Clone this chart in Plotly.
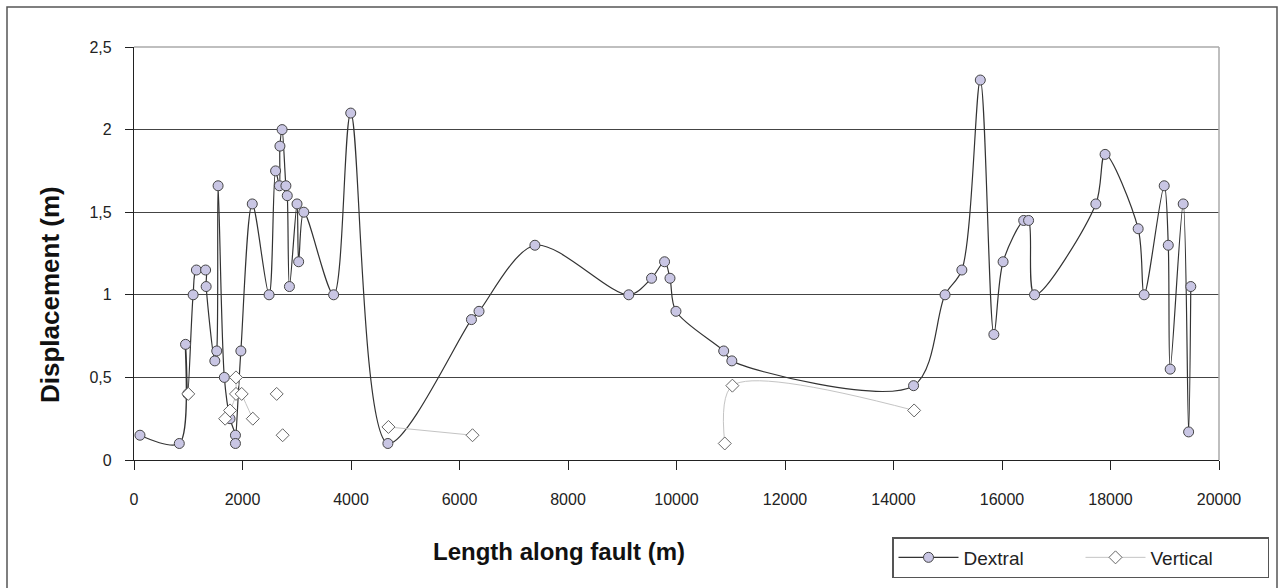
import plotly.graph_objects as go

# Dextral displacement (m) vs length along fault (m)
dextral_x = [110, 835, 950, 990, 1090, 1150, 1320, 1330, 1490, 1525, 1550, 1665, 1770, 1870, 1870,
             1970, 2180, 2490, 2610, 2680, 2690, 2730, 2800, 2825, 2865, 3005, 3035, 3130, 3680, 3995,
             4680, 6220, 6360, 7390, 9120, 9540, 9780, 9880, 9990, 10870, 11020, 14370, 14950, 15260,
             15600, 15850, 16020, 16400, 16490, 16600, 17730, 17900, 18510, 18620, 18990, 19065, 19100,
             19340, 19440, 19480]
dextral_y = [0.15, 0.10, 0.70, 0.40, 1.00, 1.15, 1.15, 1.05, 0.60, 0.66, 1.66, 0.50, 0.25, 0.15, 0.10,
             0.66, 1.55, 1.00, 1.75, 1.66, 1.90, 2.00, 1.66, 1.60, 1.05, 1.55, 1.20, 1.50, 1.00, 2.10,
             0.10, 0.85, 0.90, 1.30, 1.00, 1.10, 1.20, 1.10, 0.90, 0.66, 0.60, 0.45, 1.00, 1.15,
             2.30, 0.76, 1.20, 1.45, 1.45, 1.00, 1.55, 1.85, 1.40, 1.00, 1.66, 1.30, 0.55,
             1.55, 0.17, 1.05]

# Vertical displacement (gaps = None)
vertical_x = [1000, None, 1680, 1770, 1880, 1880, 1985, 2190, None, 2630, None, 2740, None,
              4690, 6240, None, 10890, 11030, 14380]
vertical_y = [0.40, None, 0.25, 0.30, 0.40, 0.50, 0.40, 0.25, None, 0.40, None, 0.15, None,
              0.20, 0.15, None, 0.10, 0.45, 0.30]

x_tickvals = [0, 2000, 4000, 6000, 8000, 10000, 12000, 14000, 16000, 18000, 20000]
x_ticktext = ["0", "2000", "4000", "6000", "8000", "10000", "12000", "14000", "16000", "18000", "20000"]
y_tickvals = [0, 0.5, 1, 1.5, 2, 2.5]
y_ticktext = ["0", "0,5", "1", "1,5", "2", "2,5"]

FONT = "Liberation Sans, Arial, sans-serif"

fig = go.Figure()
fig.add_trace(go.Scatter(
    x=dextral_x, y=dextral_y, name="Dextral", mode="lines+markers",
    line=dict(color="#333333", width=1.2, shape="spline", smoothing=0.9),
    marker=dict(symbol="circle", size=10, color="#c9c6e4",
                line=dict(color="#444444", width=1)),
))
fig.add_trace(go.Scatter(
    x=vertical_x, y=vertical_y, name="Vertical", mode="lines+markers",
    connectgaps=False,
    line=dict(color="#c4c4c4", width=1, shape="spline", smoothing=0.9),
    marker=dict(symbol="diamond", size=10, color="white",
                line=dict(color="#666666", width=1)),
))

L, R, T, B = 134, 66, 47, 128
W, H = 1285, 588
pw, ph = W - L - R, H - T - B


def px(xp):
    return (xp - L) / pw


def py(yp):
    return (H - B - yp) / ph


fig.update_layout(
    width=W, height=H,
    margin=dict(l=L, r=R, t=T, b=B, pad=0, autoexpand=False),
    paper_bgcolor="white", plot_bgcolor="white",
    font=dict(family=FONT, color="#222222"),
    showlegend=True,
    legend=dict(
        orientation="h", x=px(892), y=py(537), xanchor="left", yanchor="top",
        bordercolor="#555555", borderwidth=1.5, bgcolor="white",
        font=dict(size=19, family=FONT, color="#222222"),
        entrywidth=112, itemwidth=60,
    ),
    xaxis=dict(
        range=[0, 20000], tickvals=x_tickvals, ticktext=x_ticktext,
        showgrid=False, zeroline=False,
        showline=True, linecolor="#222222", linewidth=1.3,
        ticks="outside", ticklen=9, tickwidth=1.3, tickcolor="#222222",
        tickfont=dict(size=16, family=FONT, color="#222222"),
        ticklabelstandoff=16,
    ),
    yaxis=dict(
        range=[0, 2.5], tickvals=y_tickvals, ticktext=y_ticktext,
        showgrid=True, gridcolor="#444444", gridwidth=1.3,
        zeroline=False,
        showline=True, linecolor="#222222", linewidth=1.3,
        ticks="outside", ticklen=8, tickwidth=1.3, tickcolor="#222222",
        tickfont=dict(size=16, family=FONT, color="#222222"),
        ticklabelstandoff=10,
    ),
    shapes=[
        dict(type="line", xref="paper", yref="paper", x0=0, x1=1, y0=1, y1=1,
             line=dict(color="#aaaaaa", width=1.5)),
        dict(type="line", xref="paper", yref="paper", x0=1, x1=1, y0=0, y1=1,
             line=dict(color="#aaaaaa", width=1.5)),
        dict(type="rect", xref="paper", yref="paper",
             x0=px(7), x1=px(1277), y0=py(590), y1=py(7),
             line=dict(color="#555555", width=1.5), layer="below"),
    ],
    annotations=[
        dict(text="<b>Displacement (m)</b>", xref="paper", yref="paper",
             x=px(50), y=py(295), xanchor="center", yanchor="middle",
             textangle=-90, showarrow=False,
             font=dict(size=26, family=FONT, color="#111111")),
        dict(text="<b>Length along fault (m)</b>", xref="paper", yref="paper",
             x=px(559), y=py(551), xanchor="center", yanchor="middle",
             showarrow=False,
             font=dict(size=24, family=FONT, color="#111111")),
    ],
)

fig.write_html("out.html", config={"displayModeBar": False},
               post_script="document.body.style.margin='0';")
